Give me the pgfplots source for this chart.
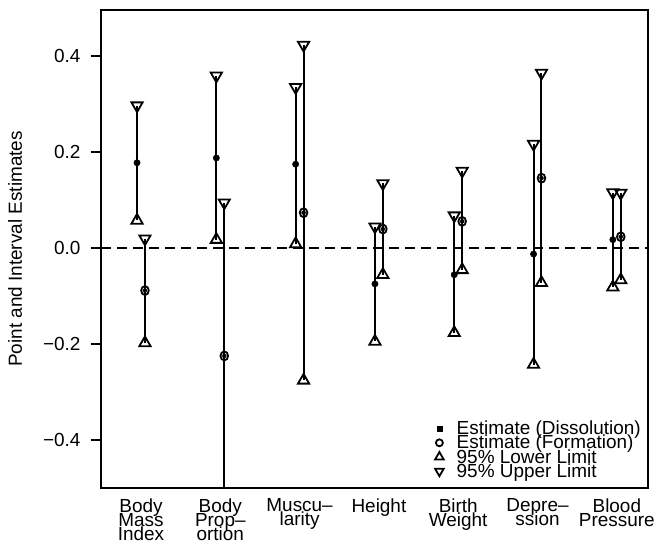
\documentclass[border=0pt]{standalone}
\usepackage{fontspec}
\setmainfont{Liberation Sans}
\usepackage{pgfplots}
\pgfplotsset{compat=1.18}
\usepackage{pgfplotstable}

\pgfplotstableread{
x est lo hi
0.95 0.177 0.057 0.296
1.95 0.187 0.017 0.358
2.95 0.174 0.008 0.334
3.95 -0.075 -0.195 0.044
4.95 -0.056 -0.177 0.067
5.95 -0.013 -0.243 0.216
6.95 0.017 -0.082 0.115
}\diss
\pgfplotstableread{
x est lo hi
1.05 -0.089 -0.198 0.019
2.05 -0.225 -0.62 0.094
3.05 0.073 -0.276 0.422
4.05 0.039 -0.056 0.134
5.05 0.055 -0.046 0.160
6.05 0.145 -0.073 0.364
7.05 0.023 -0.067 0.114
}\form

\newcommand{\lblfont}{\fontsize{19}{14.3}\selectfont\lineskiplimit=-100pt\relax}
\newcommand{\legfont}{\fontsize{19}{13.5}\selectfont\lineskiplimit=-100pt\relax}

\begin{document}
\begin{tikzpicture}
\useasboundingbox (-101bp,-56bp) rectangle (554bp,488bp);
\begin{axis}[
  scale only axis, width=547bp, height=478bp,
  xmin=0.4956, xmax=7.393, ymin=-0.5, ymax=0.495,
  axis line style={line width=1.8pt},
  xtick={1,...,7},
  xticklabels={{Body\\Mass\\Index},{Body\\Prop–\\ortion},{Muscu–\\larity},{Height},{Birth\\Weight},{Depre–\\ssion},{Blood\\Pressure}},
  x tick style={draw=none},
  xticklabel style={align=center, anchor=north, font=\lblfont, yshift=3bp},
  ytick={-0.4,-0.2,0,0.2,0.4},
  yticklabels={−0.4,−0.2,0.0,0.2,0.4},
  ytick pos=left, tick align=outside, major tick length=10bp,
  y tick style={line width=1.8pt, black},
  yticklabel style={font=\lblfont, xshift=-7bp},
  ylabel={Point and Interval Estimates},
  ylabel style={at={(axis description cs:-0.157,0.5)}, anchor=center, font=\lblfont},
  legend style={at={(rel axis cs:1,0)}, anchor=south east, xshift=-6bp, yshift=8bp,
    draw=none, fill=none, font=\legfont, row sep=-3bp, inner sep=0pt,
    nodes={inner sep=1pt}, cells={anchor=west}, column sep=12bp},
  legend cell align=left,
]
\addlegendimage{only marks, mark=square*, mark size=2.5pt}
\addlegendentry{Estimate (Dissolution)}
\addlegendimage{only marks, mark=o, mark size=3.5pt, mark options={line width=1.8pt}}
\addlegendentry{Estimate (Formation)}
\addlegendimage{only marks, mark=triangle, mark size=5pt, mark options={line width=1.8pt}}
\addlegendentry{95\% Lower Limit}
\addlegendimage{only marks, mark=triangle, mark size=5pt, mark options={line width=1.8pt, rotate=180}}
\addlegendentry{95\% Upper Limit}

\addplot[forget plot, dash pattern=on 10bp off 6bp, line width=1.7pt] coordinates {(0.4956,0) (7.393,0)};

\addplot[forget plot, only marks, mark=none, error bars/.cd, y dir=both, y explicit, error mark=none,
  error bar style={line width=2pt, solid, black}]
  table[x=x, y=est, y error plus expr=\thisrow{hi}-\thisrow{est}, y error minus expr=\thisrow{est}-\thisrow{lo}] {\diss};
\addplot[forget plot, only marks, mark=none, error bars/.cd, y dir=both, y explicit, error mark=none,
  error bar style={line width=2pt, solid, black}]
  table[x=x, y=est, y error plus expr=\thisrow{hi}-\thisrow{est}, y error minus expr=\thisrow{est}-\thisrow{lo}] {\form};

\addplot[forget plot, only marks, mark=triangle, mark size=6.5pt, mark options={line width=1.8pt}, restrict y to domain=-0.5:1]
  table[x=x, y=lo] {\diss};
\addplot[forget plot, only marks, mark=triangle, mark size=6.5pt, mark options={line width=1.8pt}, restrict y to domain=-0.5:1]
  table[x=x, y=lo] {\form};
\addplot[forget plot, only marks, mark=triangle, mark size=6.5pt, mark options={line width=1.8pt, rotate=180}]
  table[x=x, y=hi] {\diss};
\addplot[forget plot, only marks, mark=triangle, mark size=6.5pt, mark options={line width=1.8pt, rotate=180}]
  table[x=x, y=hi] {\form};

\addplot[forget plot, only marks, mark=*, mark size=3.2pt] table[x=x, y=est] {\diss};
\addplot[forget plot, only marks, mark=o, mark size=4.5pt, mark options={line width=1.8pt, xscale=0.85}] table[x=x, y=est] {\form};
\end{axis}
\end{tikzpicture}
\end{document}
